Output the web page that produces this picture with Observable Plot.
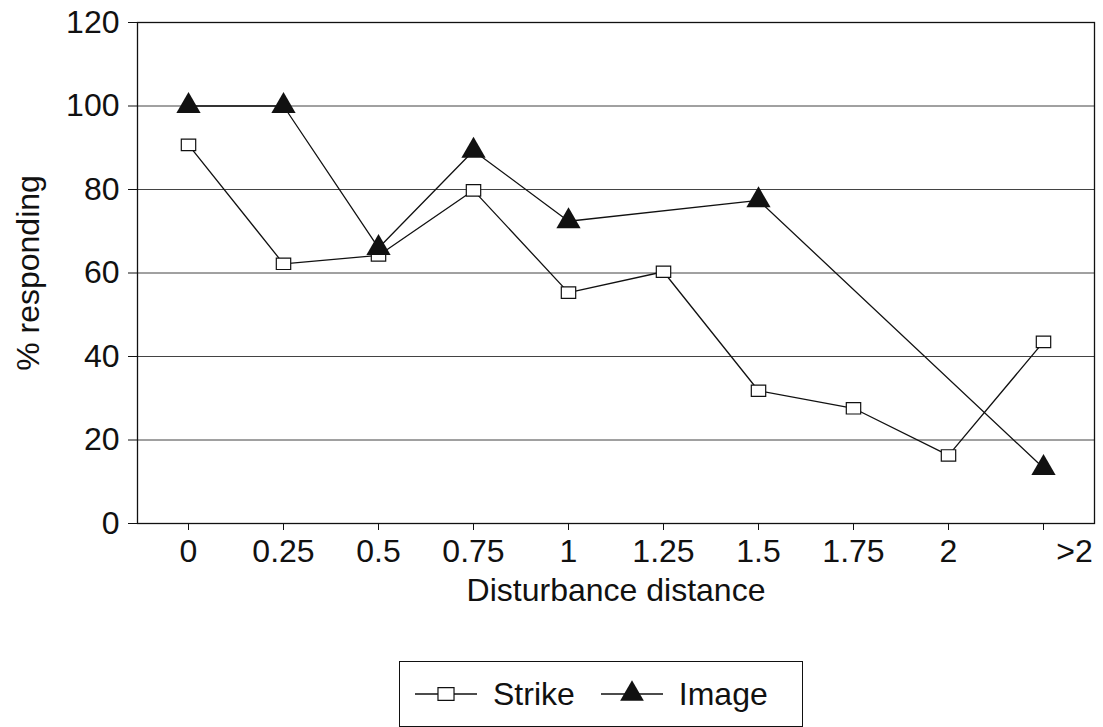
<!DOCTYPE html>
<html>
<head>
<meta charset="utf-8">
<script src="https://cdn.jsdelivr.net/npm/d3@7"></script>
<script src="https://cdn.jsdelivr.net/npm/@observablehq/plot@0.6"></script>
<style>
  body { margin: 0; background: #fff; font-family: "Liberation Sans", Arial, sans-serif; }
  #legend {
    position: absolute; left: 399px; top: 661px; width: 404px; height: 66px;
    border: 1.3px solid #111; box-sizing: border-box;
    display: flex; align-items: center; font-size: 32px; color: #111;
  }
  #legend svg { display: block; }
</style>
</head>
<body>
<div id="chart"></div>
<div id="legend"></div>
<script>
const categories = ["0", "0.25", "0.5", "0.75", "1", "1.25", "1.5", "1.75", "2", ">2"];
const strikeValues = [90.7, 62.2, 64.2, 79.8, 55.3, 60.3, 31.8, 27.6, 16.3, 43.5];
const imageValues = [100, 100, 66, 89.3, 72.4, null, 77.4, null, null, 13.3];
const yTicks = [0, 20, 40, 60, 80, 100, 120];
const gridValues = [20, 40, 60, 80, 100];
const seriesNames = ["Strike", "Image"];

const strike = categories.map((c, i) => ({cat: c, v: strikeValues[i]}));
const image = categories.map((c, i) => ({cat: c, v: imageValues[i]})).filter(d => d.v != null);

// slightly wide, short box like the original hollow markers
const boxSymbol = {
  draw(context, size) {
    const s = Math.sqrt(size);
    const w = s * 0.58, h = s * 0.46;
    context.rect(-w, -h, 2 * w, 2 * h);
  }
};

const H = 615;
const FS = 32;
const chart = Plot.plot({
  width: 1103,
  height: H,
  marginLeft: 137,
  marginRight: 9,
  marginTop: 22,
  marginBottom: H - 523,
  style: {fontFamily: "'Liberation Sans', Arial, sans-serif", fontSize: FS + "px", color: "#111", background: "#fff"},
  x: {type: "point", domain: categories, padding: 0.5},
  y: {domain: [0, 120]},
  marks: [
    Plot.ruleY(gridValues, {stroke: "#222", strokeWidth: 1, strokeOpacity: 0.85}),
    Plot.frame({stroke: "#111", strokeWidth: 1.3}),
    Plot.axisY({ticks: yTicks, tickSize: 9, tickPadding: 9, label: "% responding", labelAnchor: "center", labelArrow: "none", labelOffset: 121, stroke: "#111"}),
    Plot.axisX({ticks: categories, tickSize: 7, tickPadding: 9, tickFormat: d => d === ">2" ? "" : d, label: "Disturbance distance", labelAnchor: "center", labelArrow: "none", labelOffset: 77, stroke: "#111"}),
    Plot.text(categories.filter(c => c === ">2"), {x: d => d, y: 0, dx: 31, dy: 16, lineAnchor: "top", text: d => d, fontSize: FS, fill: "#111"}),
    Plot.line(strike, {x: "cat", y: "v", stroke: "#111", strokeWidth: 1.3}),
    Plot.line(image, {x: "cat", y: "v", stroke: "#111", strokeWidth: 1.3}),
    Plot.dot(strike, {x: "cat", y: "v", symbol: boxSymbol, r: 7, fill: "#fff", stroke: "#111", strokeWidth: 1.2}),
    Plot.dot(image, {x: "cat", y: "v", symbol: "triangle", r: 9, fill: "#111", stroke: "none"})
  ]
});
document.getElementById("chart").appendChild(chart);

// legend built from the series names
const legend = document.getElementById("legend");
const symbols = ["box", "triangle"];
seriesNames.forEach((name, i) => {
  const ns = "http://www.w3.org/2000/svg";
  const svg = document.createElementNS(ns, "svg");
  svg.setAttribute("width", 62); svg.setAttribute("height", 30);
  svg.style.marginLeft = i === 0 ? "15px" : "26px";
  const line = document.createElementNS(ns, "line");
  line.setAttribute("x1", 0); line.setAttribute("x2", 62); line.setAttribute("y1", 15); line.setAttribute("y2", 15);
  line.setAttribute("stroke", "#111"); line.setAttribute("stroke-width", 1.3);
  svg.appendChild(line);
  const p = document.createElementNS(ns, "path");
  const sym = symbols[i] === "box" ? boxSymbol : d3.symbolTriangle;
  const r = symbols[i] === "box" ? 7.8 : 8.8;
  p.setAttribute("d", d3.symbol(sym, Math.PI * r * r)());
  p.setAttribute("transform", "translate(31,15)");
  p.setAttribute("fill", symbols[i] === "box" ? "#fff" : "#111");
  p.setAttribute("stroke", symbols[i] === "box" ? "#111" : "none");
  p.setAttribute("stroke-width", 1.2);
  svg.appendChild(p);
  legend.appendChild(svg);
  const span = document.createElement("span");
  span.textContent = name;
  span.style.marginLeft = "16px";
  legend.appendChild(span);
});
</script>
</body>
</html>
